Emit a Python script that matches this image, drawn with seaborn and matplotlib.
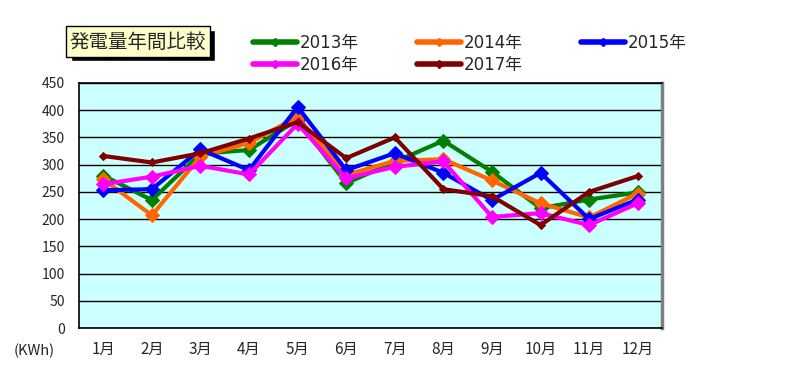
import matplotlib
matplotlib.use("Agg")
import matplotlib.pyplot as plt
import matplotlib.patches as mpatches
from matplotlib.lines import Line2D
import seaborn as sns
import pandas as pd

# monthly generation (kWh)
months = ["1月", "2月", "3月", "4月", "5月", "6月", "7月", "8月", "9月", "10月", "11月", "12月"]
y2013 = [280, 235, 320, 327, 382, 266, 305, 344, 287, 220, 236, 249]
y2014 = [273, 207, 315, 340, 388, 281, 307, 310, 271, 229, 203, 247]
y2015 = [253, 255, 328, 290, 406, 290, 321, 285, 235, 285, 200, 236]
y2016 = [264, 278, 298, 282, 375, 275, 296, 306, 204, 211, 189, 229]
y2017 = [316, 304, 321, 348, 378, 312, 350, 255, 242, 189, 250, 279]

years = ["2013年", "2014年", "2015年", "2016年", "2017年"]
colors = ["#008000", "#FF6600", "#0000FF", "#FF00FF", "#800000"]

df = pd.DataFrame({
    "month": months * 5,
    "kwh": y2013 + y2014 + y2015 + y2016 + y2017,
    "year": sum([[y] * 12 for y in years], []),
})

sns.set_style("white")
plt.rcParams["font.family"] = ["Noto Sans CJK JP", "DejaVu Sans"]
wide = ["DejaVu Sans", "Noto Sans CJK JP"]

fig = plt.figure(figsize=(7.89, 3.72), dpi=100)
ax = fig.add_axes([79 / 789, 1 - 328 / 372, 583 / 789, 245 / 372])
ax.set_facecolor("#CCFFFF")

for yr, c in zip(years, colors):
    d = df[df["year"] == yr]
    small = yr == "2017年"
    sns.lineplot(data=d, x="month", y="kwh", ax=ax, color=c, lw=3,
                 marker="D", markersize=4 if small else 7,
                 markeredgecolor=c, legend=False, sort=False)

ax.set_xlim(-0.5, 11.5)
ax.set_ylim(0, 450)
ax.set_yticks(range(0, 451, 50))
ax.yaxis.grid(True, color="black", lw=1)
ax.set_axisbelow(True)
ax.set_xlabel("")
ax.set_ylabel("")
ax.set_xticks(range(12))
ax.set_xticklabels(months)
ax.set_xticks([i + 0.5 for i in range(11)], minor=True)
ax.tick_params(axis="x", which="major", length=0, pad=9, labelsize=11)
ax.tick_params(axis="x", which="minor", length=4, direction="in", color="black")
ax.tick_params(axis="y", length=0, pad=10, labelsize=10)
for s in ["left", "bottom", "top"]:
    ax.spines[s].set_color("black")
    ax.spines[s].set_linewidth(1.2)
ax.spines["right"].set_color("#808080")
ax.spines["right"].set_linewidth(2.5)

fig.text(34 / 789, 1 - 351 / 372, "(KWh)", ha="center", va="center", fontsize=10.5)

# title box with drop shadow
fig.patches.append(mpatches.Rectangle((71 / 789, 1 - 61 / 372), 144 / 789, 31 / 372,
                                      transform=fig.transFigure, facecolor="black", zorder=1))
fig.patches.append(mpatches.Rectangle((66 / 789, 1 - 57 / 372), 144 / 789, 31 / 372,
                                      transform=fig.transFigure, facecolor="#FFFFCC",
                                      edgecolor="black", lw=1, zorder=2))
fig.text(138 / 789, 1 - 42 / 372, "発電量年間比較", ha="center", va="center", fontsize=14, zorder=3)

# legend, filled row by row, small diamonds on the handles
handles = [Line2D([], [], color=c, lw=4, marker="D", markersize=4) for c in colors]
order = [0, 3, 1, 4, 2]
fig.legend([handles[i] for i in order], [years[i] for i in order], ncol=3,
           loc="upper left", bbox_to_anchor=(245 / 789, 1 - 26 / 372),
           frameon=False, prop={"family": wide, "size": 12}, handlelength=2.6,
           handletextpad=0.2, columnspacing=3.5, labelspacing=0.2, borderpad=0)

fig.savefig("out.png", dpi=100)
